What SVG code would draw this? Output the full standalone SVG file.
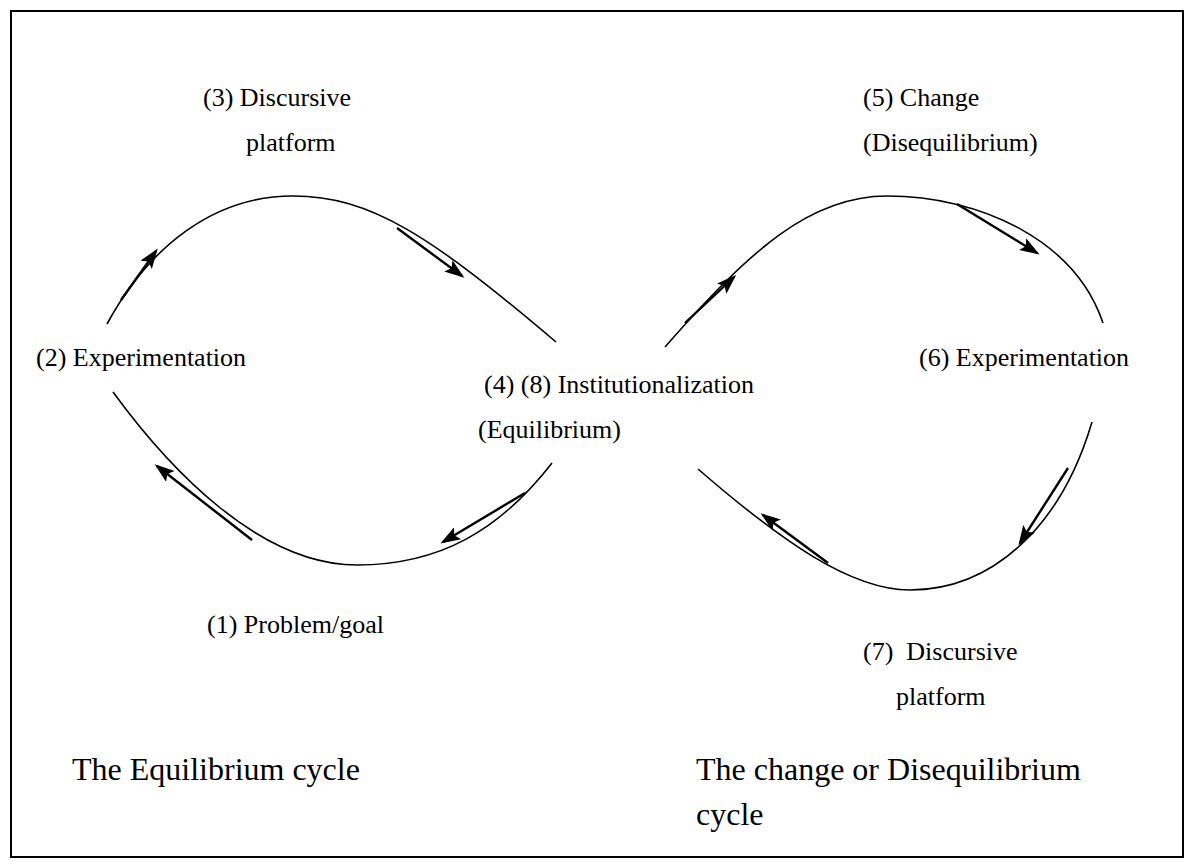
<svg xmlns="http://www.w3.org/2000/svg" width="1194" height="868" viewBox="0 0 1194 868">
  <style>
    .frame { fill: #ffffff; stroke: #000000; stroke-width: 2; }
    .arc { fill: none; stroke: #000000; stroke-width: 1.6; }
    .arrow { fill: none; stroke: #000000; stroke-width: 2.4; marker-end: url(#head); }
    .lbl { font-family: "Liberation Serif", "Times New Roman", serif; font-size: 26px; fill: #000000; }
    .cap { font-family: "Liberation Serif", "Times New Roman", serif; font-size: 32px; fill: #000000; }
  </style>
  <defs>
    <marker id="head" markerWidth="20" markerHeight="14" refX="17" refY="7" orient="auto" markerUnits="userSpaceOnUse">
      <path d="M0,0 L20,7 L0,14 L4,7 Z" fill="#000000"/>
    </marker>
  </defs>

  <rect class="frame" x="11" y="11" width="1172" height="846"/>

  <!-- figure-eight loop curves and their direction arrows -->
  <g id="connectors">
    <path class="arc" d="M107,324 C150,245 215,196 293,196 C370,196 430,235 556,342"/>
    <path class="arc" d="M113,392 C170,470 260,565 357,565 C440,565 500,530 552,463"/>
    <path class="arc" d="M665,347 C750,250 810,196 887,196 C980,196 1075,240 1103,323"/>
    <path class="arc" d="M698,469 C780,540 850,590 910,590 C990,590 1060,530 1092,422"/>

    <line class="arrow" x1="121" y1="300" x2="156" y2="251"/>
    <line class="arrow" x1="397" y1="228" x2="462" y2="276"/>
    <line class="arrow" x1="252" y1="540" x2="157" y2="466"/>
    <line class="arrow" x1="525" y1="493" x2="443" y2="542"/>
    <line class="arrow" x1="685" y1="323" x2="734" y2="277"/>
    <line class="arrow" x1="957" y1="204" x2="1037" y2="253"/>
    <line class="arrow" x1="828" y1="563" x2="763" y2="515"/>
    <line class="arrow" x1="1068" y1="468" x2="1020" y2="543"/>
  </g>

  <g id="node-discursive-1"><text class="lbl" x="203" y="106">(3) Discursive</text><text class="lbl" x="246" y="151">platform</text></g>
  <g id="node-experimentation-1"><text class="lbl" x="36" y="366">(2) Experimentation</text></g>
  <g id="node-problem"><text class="lbl" x="207" y="633">(1) Problem/goal</text></g>
  <g id="node-institutionalization"><text class="lbl" x="484" y="393">(4) (8) Institutionalization</text><text class="lbl" x="478" y="438">(Equilibrium)</text></g>
  <g id="node-change"><text class="lbl" x="863" y="106">(5) Change</text><text class="lbl" x="863" y="151">(Disequilibrium)</text></g>
  <g id="node-experimentation-2"><text class="lbl" x="919" y="366">(6) Experimentation</text></g>
  <g id="node-discursive-2"><text class="lbl" x="863" y="660" xml:space="preserve">(7)  Discursive</text><text class="lbl" x="896" y="705">platform</text></g>

  <g id="caption-left"><text class="cap" x="72" y="780">The Equilibrium cycle</text></g>
  <g id="caption-right"><text class="cap" x="696" y="780">The change or Disequilibrium</text><text class="cap" x="696" y="825">cycle</text></g>
</svg>
